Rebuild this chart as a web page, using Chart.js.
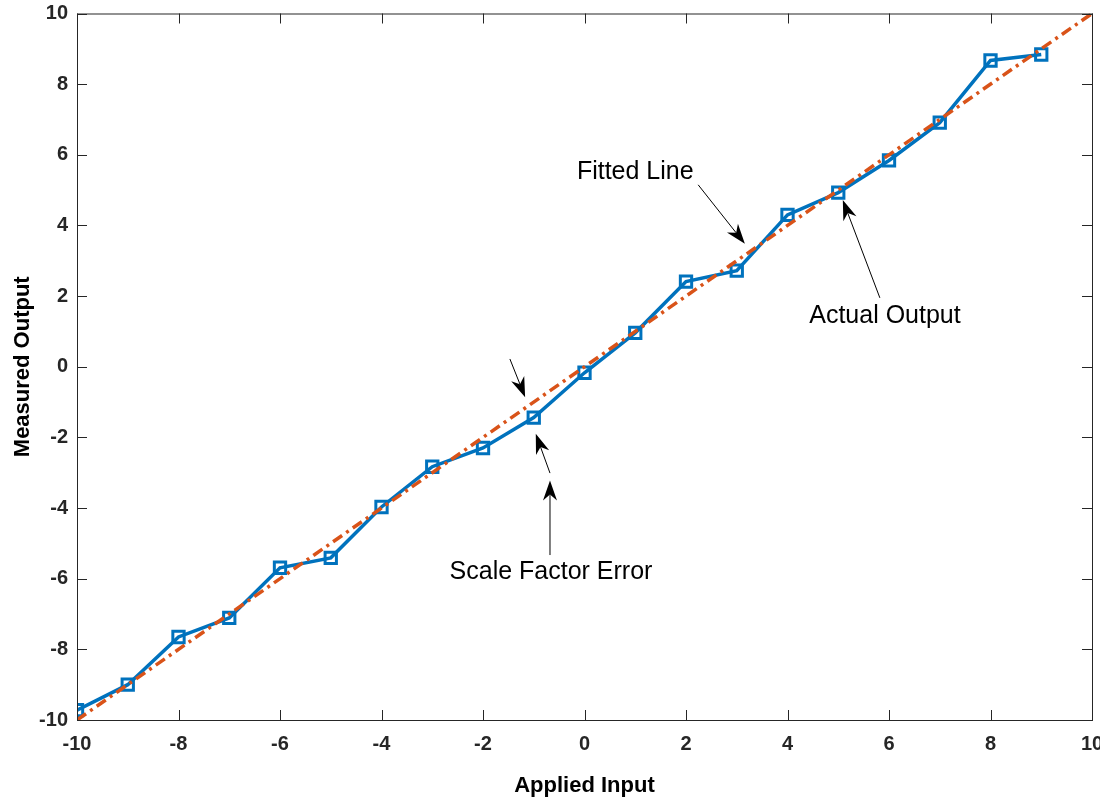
<!DOCTYPE html>
<html>
<head>
<meta charset="utf-8">
<script src="https://cdn.jsdelivr.net/npm/chart.js@4/dist/chart.umd.min.js"></script>
<style>
  html, body { margin: 0; padding: 0; background: #fff; overflow: hidden; }
  #wrap { position: relative; width: 1111px; height: 799px; }
</style>
</head>
<body>
<div id="wrap"><canvas id="chart"></canvas></div>
<script>
// measured samples
const inputX = [-10, -9, -8, -7, -6, -5, -4, -3, -2, -1, 0, 1, 2, 3, 4, 5, 6, 7, 8, 9];
const outputY = [-9.72, -9.0, -7.65, -7.11, -5.69, -5.41, -3.97, -2.83, -2.3, -1.44,
  -0.17, 0.96, 2.41, 2.72, 4.3, 4.93, 5.84, 6.91, 8.67, 8.84];

// fitted line end points
const fitX = [-10, 10];
const fitY = [-10, 10];

const tickValues = [-10, -8, -6, -4, -2, 0, 2, 4, 6, 8, 10];

// annotations (data coordinates)
const labelTexts = ["Fitted Line", "Actual Output", "Scale Factor Error"];
const labelX = [1.0, 5.92, -0.66];
const labelY = [5.51, 1.44, -5.81];
const arrowFromX = [2.24, 5.82, -1.47, -0.68, -0.68];
const arrowFromY = [5.15, 1.95, 0.22, -3.01, -5.33];
const arrowToX = [3.16, 5.09, -1.17, -0.96, -0.68];
const arrowToY = [3.48, 4.72, -0.86, -1.9, -3.22];

const blue = "#0072BD";
const orange = "#D95319";
const axisColor = "#262626";

function drawArrow(ctx, x1, y1, x2, y2) {
  const ang = Math.atan2(y2 - y1, x2 - x1);
  const len = 20, half = 7, notch = 14;
  const bx = x2 - notch * Math.cos(ang), by = y2 - notch * Math.sin(ang);
  ctx.beginPath();
  ctx.moveTo(x1, y1);
  ctx.lineTo(bx, by);
  ctx.stroke();
  const px = x2 - len * Math.cos(ang), py = y2 - len * Math.sin(ang);
  const nx = -Math.sin(ang), ny = Math.cos(ang);
  ctx.beginPath();
  ctx.moveTo(x2, y2);
  ctx.lineTo(px + nx * half, py + ny * half);
  ctx.lineTo(bx, by);
  ctx.lineTo(px - nx * half, py - ny * half);
  ctx.closePath();
  ctx.fill();
}

function noEdgePadding(scale) {
  scale.paddingTop = 0;
  scale.paddingBottom = 0;
  scale.paddingLeft = 0;
  scale.paddingRight = 0;
}

const framePlugin = {
  id: "frame",
  afterDraw(chart) {
    const { ctx, chartArea: a, scales } = chart;
    const xs = scales.x, ys = scales.y;
    ctx.save();
    // box
    ctx.strokeStyle = axisColor;
    ctx.lineWidth = 1;
    ctx.strokeRect(a.left + 0.5, a.top + 0.5, a.right - a.left, a.bottom - a.top);
    // inward ticks on all sides
    const tl = 10;
    ctx.beginPath();
    tickValues.forEach((v) => {
      const px = Math.round(xs.getPixelForValue(v)) + 0.5;
      ctx.moveTo(px, a.bottom); ctx.lineTo(px, a.bottom - tl);
      ctx.moveTo(px, a.top); ctx.lineTo(px, a.top + tl);
      const py = Math.round(ys.getPixelForValue(v)) + 0.5;
      ctx.moveTo(a.left, py); ctx.lineTo(a.left + tl, py);
      ctx.moveTo(a.right, py); ctx.lineTo(a.right - tl, py);
    });
    ctx.stroke();

    // arrows
    ctx.strokeStyle = "#000";
    ctx.fillStyle = "#000";
    ctx.lineWidth = 1;
    arrowFromX.forEach((_, i) => {
      drawArrow(ctx,
        xs.getPixelForValue(arrowFromX[i]), ys.getPixelForValue(arrowFromY[i]),
        xs.getPixelForValue(arrowToX[i]), ys.getPixelForValue(arrowToY[i]));
    });

    // annotation texts
    ctx.font = "25px 'Liberation Sans', Arial, sans-serif";
    ctx.textAlign = "center";
    ctx.textBaseline = "middle";
    labelTexts.forEach((t, i) => {
      ctx.fillText(t, xs.getPixelForValue(labelX[i]), ys.getPixelForValue(labelY[i]));
    });

    // reference image is cut off at the right
    ctx.fillStyle = "#fff";
    ctx.fillRect(1100, 0, 20, chart.height);
    ctx.restore();
  }
};

const tickFont = { family: "'Liberation Sans', Arial, sans-serif", size: 20, weight: "bold" };
const titleFont = { family: "'Liberation Sans', Arial, sans-serif", size: 22, weight: "bold" };

new Chart(document.getElementById("chart"), {
  type: "scatter",
  data: {
    datasets: [
      {
        label: "Fitted Line",
        data: fitX.map((x, i) => ({ x, y: fitY[i] })),
        showLine: true,
        borderColor: orange,
        borderWidth: 3.5,
        borderDash: [11, 5, 3, 5],
        pointRadius: 0,
        order: 0
      },
      {
        label: "Actual Output",
        data: inputX.map((x, i) => ({ x, y: outputY[i] })),
        showLine: true,
        borderColor: blue,
        borderWidth: 3.5,
        pointStyle: "rect",
        pointRadius: 8,
        pointBorderWidth: 3,
        pointBorderColor: blue,
        pointBackgroundColor: "rgba(0,0,0,0)",
        order: 1
      }
    ]
  },
  options: {
    responsive: true,
    maintainAspectRatio: false,
    devicePixelRatio: 1,
    animation: false,
    layout: { padding: { top: 13.5, right: 19, bottom: 0, left: 0 } },
    plugins: { legend: { display: false }, tooltip: { enabled: false } },
    scales: {
      x: {
        type: "linear",
        min: -10,
        max: 10,
        afterFit(scale) { scale.height = 79; noEdgePadding(scale); },
        afterBuildTicks(scale) { scale.ticks = tickValues.map((v) => ({ value: v })); },
        grid: { display: false, drawTicks: false },
        border: { display: false },
        ticks: { color: axisColor, font: tickFont, padding: 12, maxRotation: 0, autoSkip: false },
        title: { display: true, text: "Applied Input", color: "#000", font: titleFont, padding: { top: 0, bottom: 0 } }
      },
      y: {
        type: "linear",
        min: -10,
        max: 10,
        afterFit(scale) { scale.width = 77; noEdgePadding(scale); },
        afterBuildTicks(scale) { scale.ticks = tickValues.map((v) => ({ value: v })); },
        grid: { display: false, drawTicks: false },
        border: { display: false },
        ticks: { color: axisColor, font: tickFont, padding: 9, autoSkip: false },
        title: { display: true, text: "Measured Output", color: "#000", font: titleFont, padding: { top: 10, bottom: 0 } }
      }
    }
  },
  plugins: [framePlugin]
});
</script>
</body>
</html>
